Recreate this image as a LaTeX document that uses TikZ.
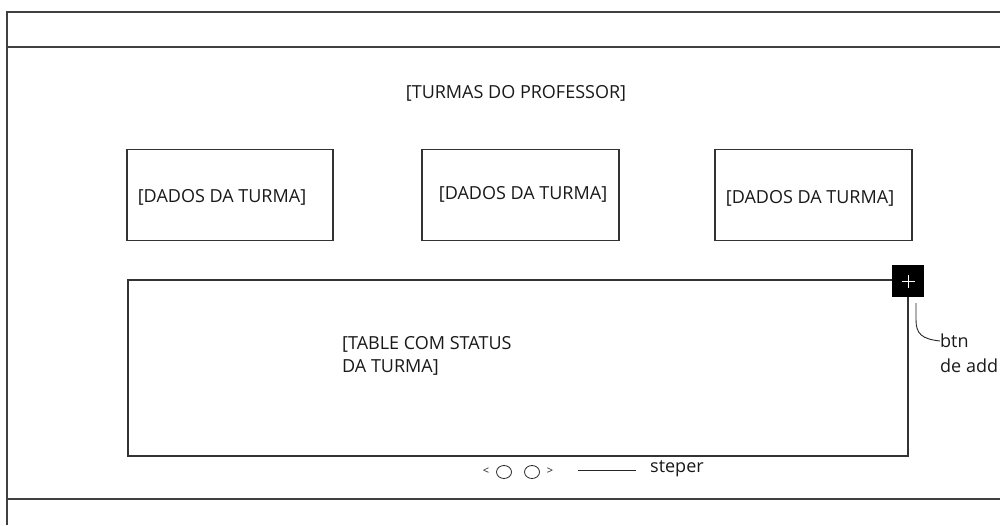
\documentclass[tikz,border=0pt]{standalone}
\usepackage{fontspec}
\setmainfont{Open Sans}
\usetikzlibrary{shapes.geometric}
\begin{document}
\begin{tikzpicture}[x=1pt,y=-1pt,
  frameline/.style={draw=black!75,line width=1.4pt},
  boxline/.style={draw=black!80,line width=1.1pt},
  lbl/.style={font=\fontsize{18}{23}\selectfont,text=black!90,inner sep=0pt},
  card/.style={boxline,minimum width=206pt,minimum height=91pt,inner sep=0pt},
  dot/.style={draw=black!85,line width=0.8pt,ellipse,minimum width=15pt,minimum height=13pt,inner sep=0pt}]
\useasboundingbox (0,0) rectangle (1000,525);
% page frame: header band, body, footer band
\draw[frameline] (1000,12) -- (7,12) -- (7,525);
\draw[frameline] (7,47) -- (1000,47);
\draw[frameline] (7,499) -- (1000,499);
% title
\node[lbl] (title) at (516,93) {[TURMAS DO PROFESSOR]};
% class cards
\node[card,minimum width=206pt] (c1) at (230,195) {};
\node[card,minimum width=197pt] (c2) at (520.5,195) {};
\node[card,minimum width=197pt] (c3) at (813.5,195) {};
\node[lbl] (t1) at (222,197) {[DADOS DA TURMA]};
\node[lbl] (t2) at (523,194) {[DADOS DA TURMA]};
\node[lbl] (t3) at (810,198) {[DADOS DA TURMA]};
% status table with add button on its corner
\node[fill=black,minimum size=32pt,inner sep=0pt] (add) at (908,281) {};
\draw[white,line width=1pt] ([xshift=-6.5pt]add.center) -- ([xshift=6.5pt]add.center)
  ([yshift=-6.5pt]add.center) -- ([yshift=6.5pt]add.center);
\coordinate (tl) at (128,280);
\coordinate (bl) at (128,456);
\coordinate (br) at (908,456);
\draw[boxline] (add.west |- tl) -- (tl) -- (bl) -- (br) -- (add.south);
\node[lbl,align=left,anchor=west] (tbl) at (342,355.5) {[TABLE COM STATUS\\DA TURMA]};
% callout for the add button
\node[lbl,anchor=west] (btn) at (940,341) {btn};
\node[lbl,anchor=west] (deadd) at (940,366) {de add};
\coordinate (cs) at (916,303);
\draw[black!85,line width=0.9pt] (cs) -- (916,320) .. controls (916,334) and (922,339) .. (btn.west);
% stepper
\node[lbl,font=\fontsize{11}{13}\selectfont] (lt) at (486,471) {<};
\node[dot] (d1) at (504,472) {};
\node[dot] (d2) at (532,472) {};
\node[lbl,font=\fontsize{11}{13}\selectfont] (gt) at (550,471) {>};
\node[lbl,anchor=west] (steper) at (650,469) {steper};
\coordinate (sl) at (578,470);
\coordinate (sr) at (636,470);
\draw[black!85,line width=0.9pt] (sl) -- (sr);
\end{tikzpicture}
\end{document}
